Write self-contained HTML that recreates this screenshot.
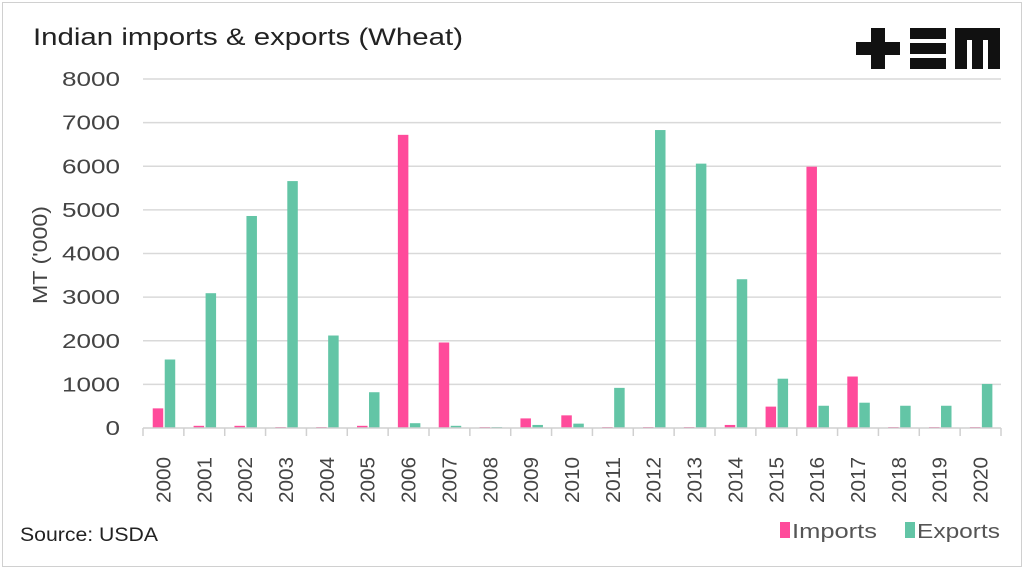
<!DOCTYPE html>
<html><head><meta charset="utf-8"><style>
body{margin:0;background:#fff;}
#wrap{position:relative;width:1024px;height:569px;background:#fff;font-family:"Liberation Sans",sans-serif;}
#frame{position:absolute;left:2px;top:2px;width:1018px;height:563px;border:1px solid #d0d0d0;}
</style></head><body>
<div id="wrap">
<div id="frame"></div>
<svg id="chart" width="1024" height="569" style="position:absolute;left:0;top:0">
<text x="33" y="45" font-size="24" fill="#222" textLength="430" lengthAdjust="spacingAndGlyphs">Indian imports &amp; exports (Wheat)</text>
<g fill="#111">
<rect x="856" y="42" width="44" height="13"/><rect x="871" y="28" width="14" height="41"/>
<rect x="910" y="28" width="36" height="11"/><rect x="910" y="43" width="36" height="11"/><rect x="910" y="58" width="36" height="11"/>
<path d="M955 69 V28 H1000 V69 H988 V40 H983 V69 H972 V40 H967 V69 Z"/>
</g>
<text x="47" y="255" font-size="20" fill="#444" transform="rotate(-90 47 255)" text-anchor="middle" textLength="98" lengthAdjust="spacingAndGlyphs">MT ('000)</text>
<text x="20" y="541" font-size="19" fill="#222" textLength="138" lengthAdjust="spacingAndGlyphs">Source: USDA</text>
<g id="grid"></g><g id="bars"></g><g id="axes"></g>
<g>
<rect x="780" y="522" width="10" height="16" fill="#ff4b9b"/>
<text x="792" y="538" font-size="20" fill="#555" textLength="85" lengthAdjust="spacingAndGlyphs">Imports</text>
<rect x="905" y="522" width="10" height="16" fill="#63c5a6"/>
<text x="917" y="538" font-size="20" fill="#555" textLength="83" lengthAdjust="spacingAndGlyphs">Exports</text>
</g>
</svg>
</div>
<script>
const years=["2000","2001","2002","2003","2004","2005","2006","2007","2008","2009","2010","2011","2012","2013","2014","2015","2016","2017","2018","2019","2020"];
const imports=[450,50,50,20,20,50,6720,1960,20,220,290,20,20,20,70,490,5990,1180,20,20,20];
const exports=[1570,3090,4860,5660,2120,820,110,50,20,70,100,920,6830,6060,3410,1130,510,580,510,510,1010];
const yTicks=[0,1000,2000,3000,4000,5000,6000,7000,8000];
const NS="http://www.w3.org/2000/svg";
const x0=143,x1=1001,y0=428,yTop=79;
const bw=(x1-x0)/years.length;
const y=v=>y0-(v/8000)*(y0-yTop);
const xc=i=>x0+bw*(i+0.5);
function mk(t,a,p){const e=document.createElementNS(NS,t);for(const k in a)e.setAttribute(k,a[k]);p.appendChild(e);return e;}
const grid=document.getElementById('grid'),bars=document.getElementById('bars'),axes=document.getElementById('axes');
yTicks.forEach(v=>{
  if(v>0){const l=mk('line',{x1:x0,x2:x1,y1:y(v),y2:y(v),stroke:'#d9d9d9','stroke-width':1.5},grid);
  
  }
  const s=String(v);
  const t=mk('text',{x:120,y:y(v)+7,'font-size':20,fill:'#444','text-anchor':'end',textLength:s.length*14.5,lengthAdjust:'spacingAndGlyphs'},axes);t.textContent=s;
  
  
});
const ax=mk('line',{x1:x0,x2:x1,y1:y0,y2:y0,stroke:'#d0d0d0','stroke-width':1.5},axes);


for(let i=0;i<=years.length;i++){const tk=mk('line',{x1:x0+bw*i,x2:x0+bw*i,y1:y0,y2:y0+8,stroke:'#d0d0d0','stroke-width':1.5},axes);
  
  }
years.forEach((yr,i)=>{
  const cx=xc(i);
  const ih=Math.max(y0-y(imports[i]),1),eh=Math.max(y0-y(exports[i]),1);
  const b1=mk('rect',{x:cx-10.7,y:y0-ih,width:10.5,height:ih,fill:'#ff4b9b'},bars);
  
  
  const b2=mk('rect',{x:cx+1.3,y:y0-eh,width:10.5,height:eh,fill:'#63c5a6'},bars);
  
  
  const t=mk('text',{x:cx+7,y:480,'font-size':20,fill:'#444','text-anchor':'middle',textLength:46,lengthAdjust:'spacingAndGlyphs',transform:`rotate(-90 ${cx+7} 480)`},axes);
  t.textContent=yr;
  
  
});
</script>
</body></html>
